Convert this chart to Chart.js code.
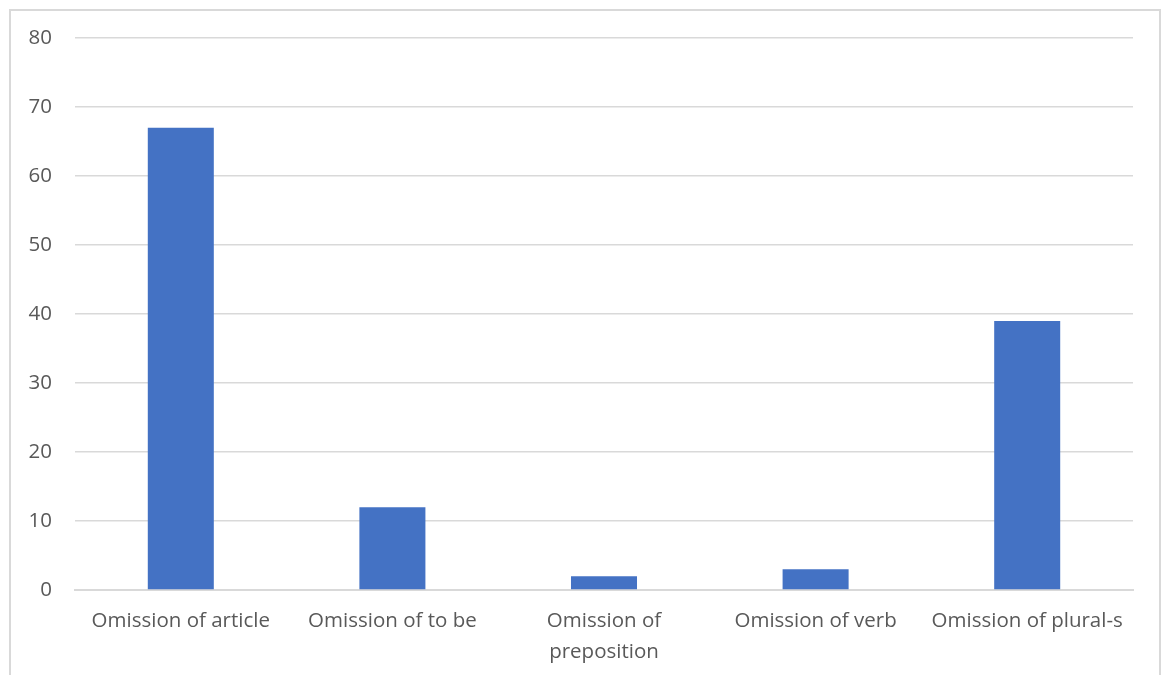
<!DOCTYPE html>
<html>
<head>
<meta charset="utf-8">
<script src="https://cdn.jsdelivr.net/npm/chart.js@4/dist/chart.umd.min.js"></script>
<style>
  html, body { margin: 0; padding: 0; background: #ffffff; }
  #wrap { position: relative; width: 1167px; height: 675px; overflow: hidden; }
  #frame {
    position: absolute; left: 9px; top: 9px; width: 1152px; height: 700px;
    border: 2px solid #d9d9d9; box-sizing: border-box;
  }
  canvas { position: absolute; left: 0; top: 0; }
</style>
</head>
<body>
<div id="wrap">
  <div id="frame"></div>
  <canvas id="chart" width="1167" height="675"></canvas>
</div>
<script>
// Omission error categories and their counts
const categories = [
  'Omission of article',
  'Omission of to be',
  ['Omission of', 'preposition'],
  'Omission of verb',
  'Omission of plural-s'
];
const counts = [67, 12, 2, 3, 39];
const yTicks = [0, 10, 20, 30, 40, 50, 60, 70, 80];

const labelFont = { family: '"Open Sans", "Noto Sans", sans-serif', size: 20.5 };

new Chart(document.getElementById('chart'), {
  type: 'bar',
  data: {
    labels: categories,
    datasets: [{
      data: counts,
      backgroundColor: '#4472C4',
      borderWidth: 0,
      categoryPercentage: 1,
      barPercentage: 0.312
    }]
  },
  options: {
    responsive: false,
    animation: false,
    layout: { padding: { top: 38, right: 34, left: 0, bottom: 0 } },
    plugins: { legend: { display: false }, tooltip: { enabled: false } },
    scales: {
      x: {
        grid: { display: false, drawTicks: false },
        border: { display: true, color: '#d9d9d9', width: 2 },
        ticks: {
          color: '#595959',
          font: { ...labelFont, lineHeight: 1.5 },
          padding: 16,
          maxRotation: 0,
          autoSkip: false
        },
        afterFit(scale) { scale.height = 85; }
      },
      y: {
        min: 0,
        max: 80,
        afterBuildTicks(scale) { scale.ticks = yTicks.map(v => ({ value: v })); },
        grid: { color: '#d9d9d9', lineWidth: 1.5, drawTicks: false },
        border: { display: false },
        ticks: {
          color: '#595959',
          font: labelFont,
          padding: 23
        },
        afterFit(scale) { scale.width = 75; }
      }
    }
  }
});
</script>
</body>
</html>
